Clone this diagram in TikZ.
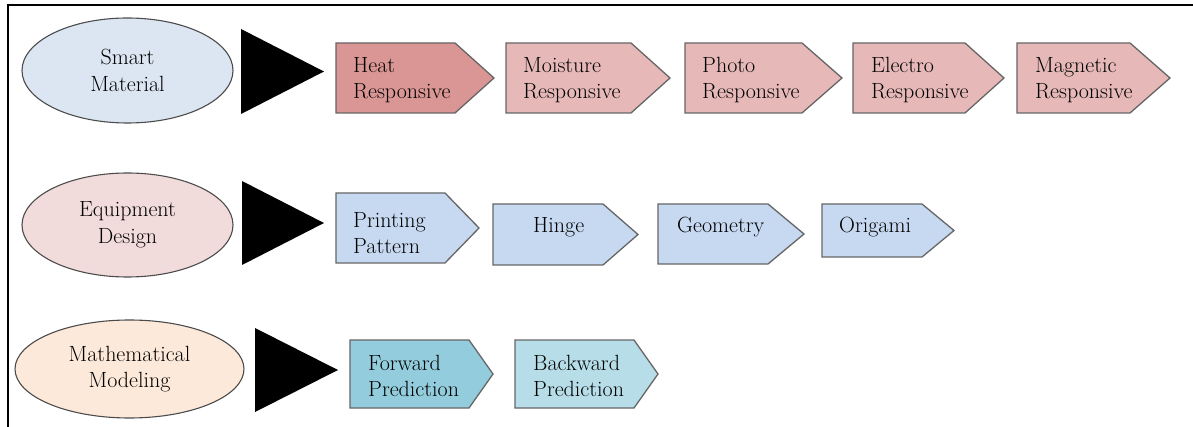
\documentclass[tikz,border=0pt]{standalone}
\usetikzlibrary{shapes.geometric}

\definecolor{smartfill}{RGB}{220,230,242}
\definecolor{equipfill}{RGB}{242,220,219}
\definecolor{mathfill}{RGB}{253,233,217}
\definecolor{heatfill}{RGB}{217,150,148}
\definecolor{respfill}{RGB}{230,185,184}
\definecolor{designfill}{RGB}{198,217,241}
\definecolor{fwdfill}{RGB}{147,205,221}
\definecolor{bwdfill}{RGB}{183,222,232}

\tikzset{
  frameline/.style={line width=2pt},
  catnode/.style={ellipse,draw=black!70,line width=1.1pt,align=center,inner sep=0pt},
  tagline/.style={draw=black!60,line width=1.3pt},
  tagtext/.style={anchor=west,align=left,inner sep=0pt},
}

\begin{document}
\begin{tikzpicture}[x=1pt,y=-1pt,line join=miter,font=\rmfamily\fontsize{22}{26.5}\selectfont]
  \useasboundingbox (0,0) rectangle (1193,427);
  % open frame
  \draw[frameline] (7.5,427) -- (7.5,5.5) -- (1193,5.5);

  % smart material
  \node[catnode,fill=smartfill,minimum width=211,minimum height=105] (smart) at (127.5,70.5) {Smart\\Material};
  \fill (241,29) -- (324,71.5) -- (241,114) -- cycle;
  \draw[tagline,fill=heatfill] (336,43) -- (455,43) -- (494,78) -- (455,113) -- (336,113) -- cycle;
  \node[tagtext] (heat) at (353,80) {Heat\\Responsive};
  \draw[tagline,fill=respfill] (506,43) -- (631,43) -- (670,78) -- (631,113) -- (506,113) -- cycle;
  \node[tagtext] (moist) at (523,80) {Moisture\\Responsive};
  \draw[tagline,fill=respfill] (685,43) -- (802,43) -- (842,78) -- (802,113) -- (685,113) -- cycle;
  \node[tagtext] (photo) at (702,80) {Photo\\Responsive};
  \draw[tagline,fill=respfill] (853,43) -- (965,43) -- (1004,78) -- (965,113) -- (853,113) -- cycle;
  \node[tagtext] (electro) at (871,80) {Electro\\Responsive};
  \draw[tagline,fill=respfill] (1017,43) -- (1130,43) -- (1170,78) -- (1130,113) -- (1017,113) -- cycle;
  \node[tagtext] (magnet) at (1035,80) {Magnetic\\Responsive};

  % equipment design
  \node[catnode,fill=equipfill,minimum width=211,minimum height=104] (equip) at (127.5,225) {Equipment\\Design};
  \fill (242,181) -- (324,223) -- (242,265) -- cycle;
  \draw[tagline,fill=designfill] (336,193) -- (445,193) -- (479,228) -- (445,263) -- (336,263) -- cycle;
  \node[tagtext] (print) at (353,233) {Printing\\Pattern};
  \draw[tagline,fill=designfill] (493,204) -- (603,204) -- (638,234.5) -- (603,265) -- (493,265) -- cycle;
  \node[tagtext] (hinge) at (533,227) {Hinge};
  \draw[tagline,fill=designfill] (658,204) -- (768,204) -- (804,234) -- (768,264) -- (658,264) -- cycle;
  \node[tagtext] (geom) at (677,227) {Geometry};
  \draw[tagline,fill=designfill] (822,204) -- (922,204) -- (954,230.5) -- (922,257) -- (822,257) -- cycle;
  \node[tagtext] (origami) at (839,227) {Origami};

  % mathematical modeling
  \node[catnode,fill=mathfill,minimum width=229,minimum height=98] (model) at (129.5,369) {Mathematical\\Modeling};
  \fill (255,328) -- (338,370) -- (255,412) -- cycle;
  \draw[tagline,fill=fwdfill] (350,340) -- (469,340) -- (493,374) -- (469,408) -- (350,408) -- cycle;
  \node[tagtext] (fwd) at (368,376) {Forward\\Prediction};
  \draw[tagline,fill=bwdfill] (515,340) -- (634,340) -- (658,374) -- (634,408) -- (515,408) -- cycle;
  \node[tagtext] (bwd) at (533,376) {Backward\\Prediction};
\end{tikzpicture}
\end{document}
